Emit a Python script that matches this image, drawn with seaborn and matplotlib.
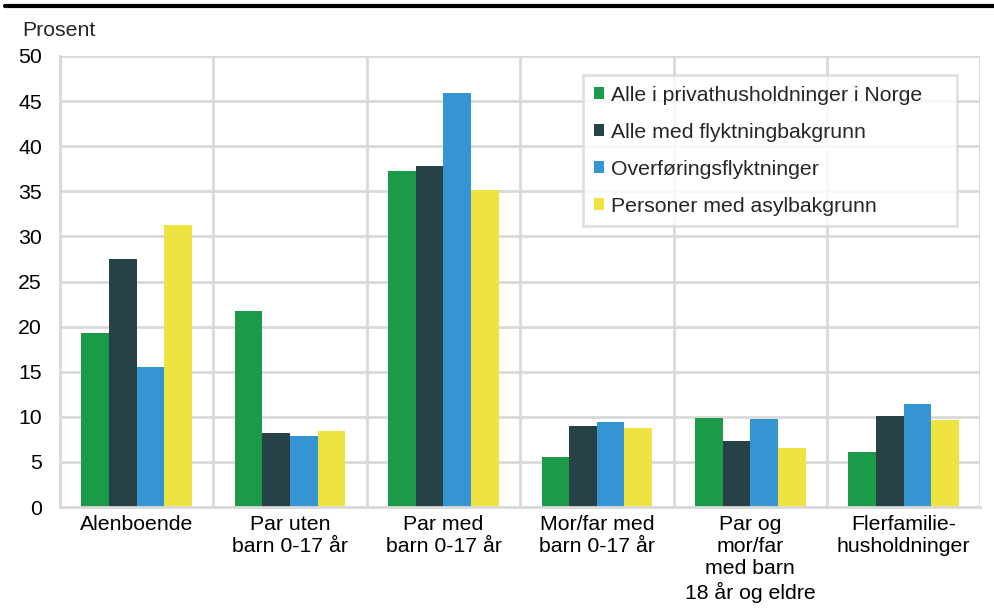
import matplotlib.pyplot as plt
import matplotlib.lines as mlines
import seaborn as sns
import pandas as pd
import numpy as np

categories = [
    "Alenboende",
    "Par uten\nbarn 0-17 år",
    "Par med\nbarn 0-17 år",
    "Mor/far med\nbarn 0-17 år",
    "Par og\nmor/far\nmed barn\n18 år og eldre",
    "Flerfamilie-\nhusholdninger",
]
series = [
    "Alle i privathusholdninger i Norge",
    "Alle med flyktningbakgrunn",
    "Overføringsflyktninger",
    "Personer med asylbakgrunn",
]
alle_norge = [19.3, 21.7, 37.3, 5.6, 9.9, 6.1]
alle_flyktning = [27.5, 8.2, 37.8, 9.0, 7.3, 10.1]
overforing = [15.5, 7.9, 45.9, 9.4, 9.8, 11.4]
asyl = [31.3, 8.4, 35.1, 8.8, 6.5, 9.6]
colors = ["#1b9b48", "#264247", "#3595d2", "#efe341"]

df = pd.DataFrame({
    "kategori": categories * 4,
    "serie": np.repeat(series, len(categories)),
    "verdi": alle_norge + alle_flyktning + overforing + asyl,
})

sns.set_theme(style="white")
plt.rcParams["font.family"] = ["Liberation Sans", "DejaVu Sans"]
fs = 15.3

fig = plt.figure(figsize=(9.95, 6.08), dpi=100)
ax = fig.add_axes([0.0603, 0.166, 0.925, 0.742])

sns.barplot(data=df, x="kategori", y="verdi", hue="serie", palette=colors,
            width=0.72, saturation=1, linewidth=0, ax=ax, legend=True)

ax.set_ylim(0, 50)
ax.set_xlim(-0.5, len(categories) - 0.5)
ax.set_yticks(range(0, 51, 5))
ax.set_xticks(np.arange(-0.5, len(categories), 1), minor=True)
ax.grid(axis="y", color="#d9d9d9", linewidth=2)
ax.grid(axis="x", which="minor", color="#d9d9d9", linewidth=2)
ax.set_axisbelow(True)
ax.tick_params(axis="x", which="both", length=0, labelsize=fs, colors="black", pad=6)
ax.tick_params(axis="y", length=0, labelsize=fs, colors="black", pad=13)
for s in ["top", "right"]:
    ax.spines[s].set_visible(False)
for s in ["left", "bottom"]:
    ax.spines[s].set_color("#d9d9d9")
    ax.spines[s].set_linewidth(2)
ax.set_xlabel("")
ax.set_ylabel("")

# legend box stretched to the reference width
leg = ax.legend(loc="upper left", bbox_to_anchor=(0.5685, 0.5, 0.4065, 0.458),
                mode="expand", fontsize=fs,
                frameon=True, fancybox=False, edgecolor="#d9d9d9",
                handlelength=0.5, handleheight=0.5, handletextpad=0.3,
                labelspacing=0.85, borderpad=0.5, borderaxespad=0)
leg.get_frame().set_linewidth(2)

fig.text(0.022, 0.95, "Prosent", fontsize=fs, ha="left", va="center")
fig.add_artist(mlines.Line2D([0.005, 1.0], [0.99, 0.99], color="black", linewidth=3))

fig.savefig("out.png", dpi=100)
